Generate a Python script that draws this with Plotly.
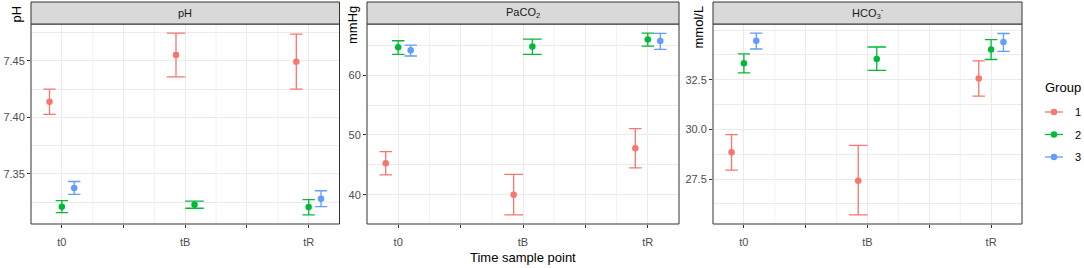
import plotly.graph_objects as go

W, H = 1084, 268

times = ["t0", "tB", "tR"]
time_pos = [1, 3, 5]
groups = ["1", "2", "3"]
colors = ["#F8766D", "#00BA38", "#619CFF"]

panels = ["pH", "PaCO<sub>2</sub>", "HCO<sub>3</sub><sup>-</sup>"]
units = ["pH", "mmHg", "mmol/L"]

# mean / lower / upper per group (rows) per time (cols); None = missing
ph_mean = [[7.4138, 7.4553, 7.4494], [7.3209, 7.3226, 7.3206], [7.3374, None, 7.3279]]
ph_low = [[7.4026, 7.4359, 7.4250], [7.3156, 7.3195, 7.3136], [7.3318, None, 7.3209]]
ph_up = [[7.4250, 7.4747, 7.4738], [7.3262, 7.3259, 7.3271], [7.3432, None, 7.3350]]

pa_mean = [[45.28, 40.00, 47.78], [64.67, 64.83, 66.00], [64.17, None, 65.72]]
pa_low = [[43.33, 36.61, 44.50], [63.50, 63.50, 64.89], [63.22, None, 64.33]]
pa_up = [[47.20, 43.39, 51.06], [65.78, 66.06, 67.06], [65.05, None, 67.00]]

hc_mean = [[28.85, 27.42, 32.57], [33.33, 33.55, 34.03], [34.47, None, 34.40]]
hc_low = [[27.95, 25.70, 31.68], [32.85, 32.97, 33.52], [34.05, None, 33.93]]
hc_up = [[29.74, 29.20, 33.45], [33.80, 34.15, 34.52], [34.85, None, 34.83]]

data = [(ph_mean, ph_low, ph_up), (pa_mean, pa_low, pa_up), (hc_mean, hc_low, hc_up)]

y_ticks = [[7.35, 7.40, 7.45], [40, 50, 60], [27.5, 30.0, 32.5]]
y_tickfmt = [".2f", ".0f", ".1f"]
y_minor = [[7.325, 7.375, 7.425, 7.475], [45, 55, 65], [26.25, 28.75, 31.25, 33.75, 35.0]]
x_unlabelled = [2, 4]
x_half = [1.5, 2.5, 3.5, 4.5]

# layout (pixels)
px_x = [(31, 339.5), (367, 679), (713, 1022)]
panel_top, panel_bot, strip_top = 24, 224, 2
dodge_w = 0.6

fig = go.Figure()

for p in range(3):
    mean, low, up = data[p]
    xa = "x" if p == 0 else f"x{p+1}"
    ya = "y" if p == 0 else f"y{p+1}"
    x0, x1 = px_x[p]
    ppu = (x1 - x0) / 5.0
    for ti in range(3):
        present = [g for g in range(3) if mean[g][ti] is not None]
        n = len(present)
        for k, g in enumerate(present):
            off = -dodge_w / 2 + dodge_w / n * (k + 0.5)
            m = mean[g][ti]
            fig.add_trace(go.Scatter(
                x=[time_pos[ti] + off], y=[m], mode="markers",
                marker=dict(color=colors[g], size=6.5),
                error_y=dict(type="data", symmetric=False,
                             array=[up[g][ti] - m], arrayminus=[m - low[g][ti]],
                             color=colors[g], thickness=1.3,
                             width=dodge_w / n * ppu / 2),
                xaxis=xa, yaxis=ya, showlegend=False, hoverinfo="skip"))

font_family = "Liberation Sans, Arial, sans-serif"
layout = dict(
    width=W, height=H,
    margin=dict(l=0, r=0, t=0, b=0),
    paper_bgcolor="white", plot_bgcolor="white",
    font=dict(family=font_family, size=11, color="#4D4D4D"),
    showlegend=False,
)

shapes = []
annotations = []
for p in range(3):
    mean, low, up = data[p]
    x0, x1 = px_x[p]
    sfx = "" if p == 0 else str(p + 1)
    vals_low = [v for row in low for v in row if v is not None]
    vals_up = [v for row in up for v in row if v is not None]
    lo, hi = min(vals_low), max(vals_up)
    pad = (hi - lo) * 0.05
    layout["xaxis" + sfx] = dict(
        domain=[x0 / W, x1 / W], range=[0.5, 5.5], anchor="y" + sfx,
        tickvals=time_pos, ticktext=times,
        ticks="outside", ticklen=3, tickcolor="#333333", tickwidth=1,
        ticklabelstandoff=5,
        showgrid=True, gridcolor="#EBEBEB", gridwidth=1,
        minor=dict(tickvals=x_unlabelled, showgrid=True, gridcolor="#EBEBEB",
                   gridwidth=1, ticks="outside", ticklen=3, tickcolor="#333333",
                   tickwidth=1),
        zeroline=False, showline=False, fixedrange=True,
        tickfont=dict(size=11, color="#4D4D4D"),
    )
    layout["yaxis" + sfx] = dict(
        domain=[1 - panel_bot / H, 1 - panel_top / H], range=[lo - pad, hi + pad],
        anchor="x" + sfx, tickvals=y_ticks[p], tickformat=y_tickfmt[p],
        ticks="outside", ticklen=3, tickcolor="#333333", tickwidth=1,
        showgrid=True, gridcolor="#EBEBEB", gridwidth=1,
        minor=dict(tickvals=y_minor[p], showgrid=True,
                   gridcolor="#EBEBEB", gridwidth=0.7, ticks=""),
        zeroline=False, showline=False, fixedrange=True,
        tickfont=dict(size=11, color="#4D4D4D"),
    )
    xref = "x" + sfx
    for hv in x_half:
        shapes.append(dict(type="line", xref=xref, yref="y" + sfx + " domain",
                           x0=hv, x1=hv, y0=0, y1=1, layer="below",
                           line=dict(color="#EBEBEB", width=0.7)))
    # panel border
    shapes.append(dict(type="rect", xref="paper", yref="paper",
                       x0=x0 / W, x1=x1 / W, y0=1 - panel_bot / H, y1=1 - panel_top / H,
                       line=dict(color="#333333", width=1), fillcolor="rgba(0,0,0,0)",
                       layer="above"))
    # strip
    shapes.append(dict(type="rect", xref="paper", yref="paper",
                       x0=x0 / W, x1=x1 / W, y0=1 - panel_top / H, y1=1 - strip_top / H,
                       line=dict(color="#333333", width=1), fillcolor="#D9D9D9",
                       layer="above"))
    annotations.append(dict(text=panels[p], xref="paper", yref="paper",
                            x=(x0 + x1) / 2 / W, y=1 - (panel_top + strip_top) / 2 / H,
                            xanchor="center", yanchor="middle", showarrow=False,
                            font=dict(size=11, color="#1A1A1A")))
    # y-axis title (top-aligned, rotated)
    annotations.append(dict(text=units[p], xref="paper", yref="paper",
                            x=(x0 - 15) / W, y=1 - 4 / H, textangle=-90,
                            xanchor="center", yanchor="top", showarrow=False,
                            font=dict(size=13, color="black")))

annotations.append(dict(text="Time sample point", xref="paper", yref="paper",
                        x=(px_x[1][0] + px_x[1][1]) / 2 / W, y=1 - 257 / H,
                        xanchor="center", yanchor="middle", showarrow=False,
                        font=dict(size=13, color="black")))

# legend (ggplot style: title above, line + dot keys)
leg_x, leg_title_y, leg_row0, leg_dy = 1043, 87, 112, 22.5
annotations.append(dict(text="Group", xref="paper", yref="paper",
                        x=leg_x / W, y=1 - leg_title_y / H, xanchor="left",
                        yanchor="middle", showarrow=False,
                        font=dict(size=13, color="black")))
for g in range(3):
    ry = leg_row0 + g * leg_dy
    shapes.append(dict(type="line", xref="paper", yref="paper",
                       x0=(leg_x + 2) / W, x1=(leg_x + 20) / W,
                       y0=1 - ry / H, y1=1 - ry / H,
                       line=dict(color=colors[g], width=1.3)))
    shapes.append(dict(type="circle", xref="paper", yref="paper",
                       x0=(leg_x + 11 - 3.2) / W, x1=(leg_x + 11 + 3.2) / W,
                       y0=1 - (ry + 3.2) / H, y1=1 - (ry - 3.2) / H,
                       line=dict(width=0), fillcolor=colors[g]))
    annotations.append(dict(text=groups[g], xref="paper", yref="paper",
                            x=(leg_x + 30) / W, y=1 - ry / H, xanchor="left",
                            yanchor="middle", showarrow=False,
                            font=dict(size=11, color="black")))

layout["shapes"] = shapes
layout["annotations"] = annotations
fig.update_layout(**layout)

fig.write_html("out.html", config={"displayModeBar": False},
               post_script="document.body.style.margin='0';document.body.style.overflow='hidden';")
